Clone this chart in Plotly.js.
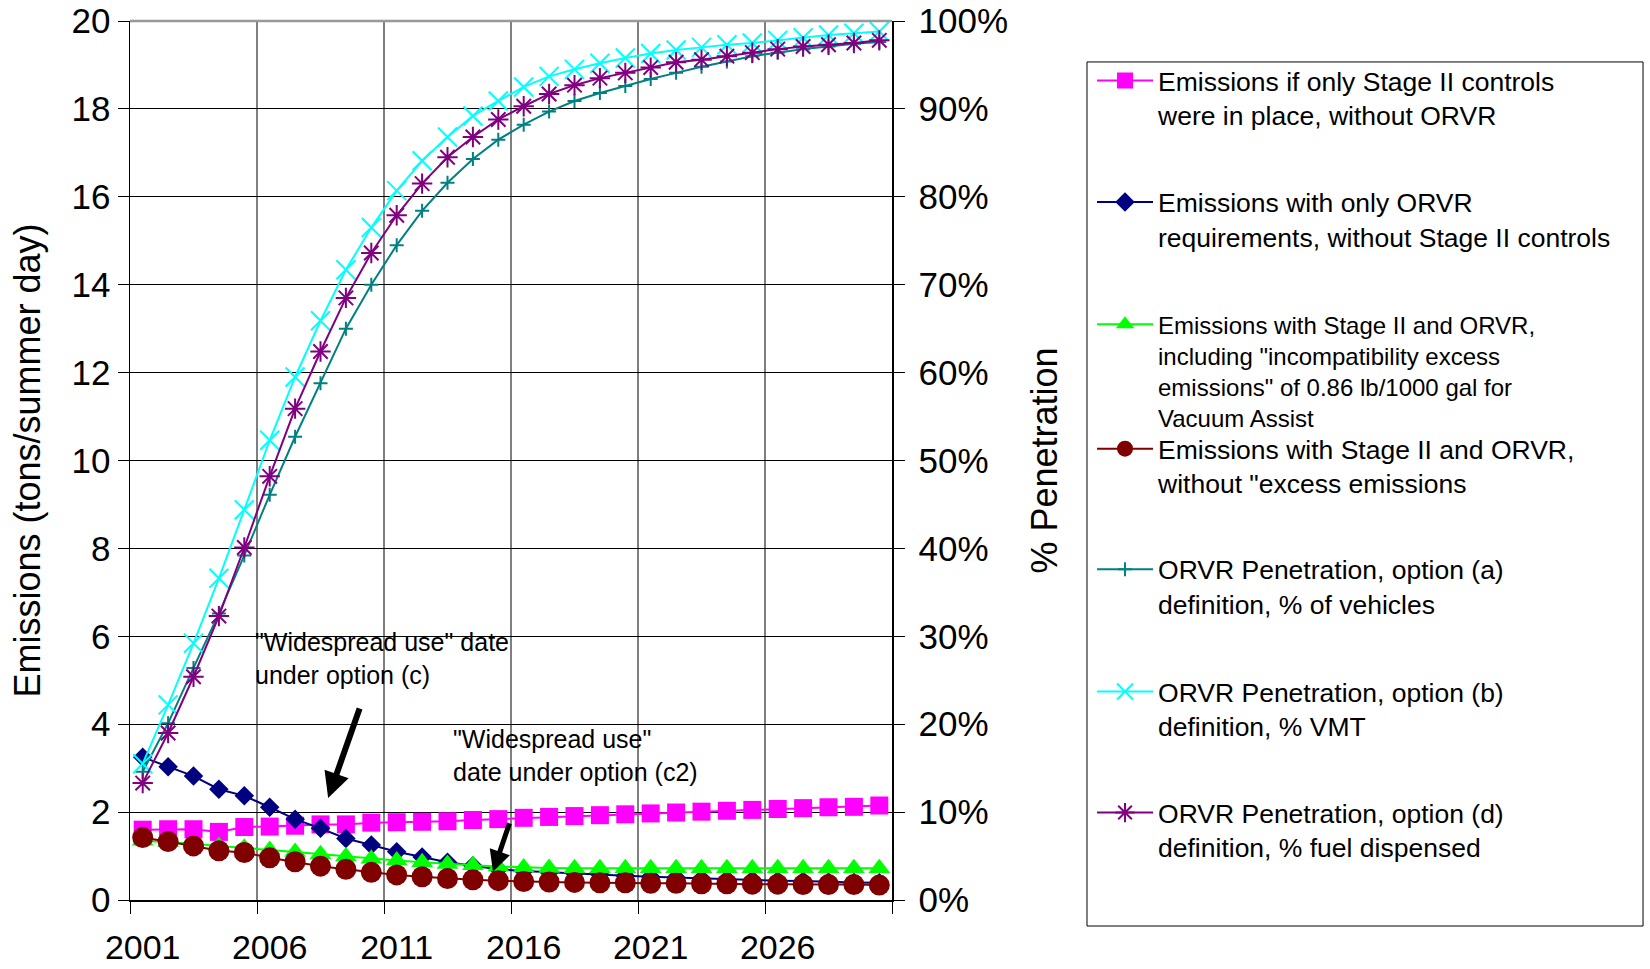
<!DOCTYPE html>
<html>
<head>
<meta charset="utf-8">
<script src="https://cdn.plot.ly/plotly-3.0.1.min.js"></script>
<style>
  html, body { margin: 0; padding: 0; background: #fff; }
  #chart { width: 1650px; height: 969px; }
</style>
</head>
<body>
<div id="chart"></div>
<script>
// ---- data ----
const years = [2001,2002,2003,2004,2005,2006,2007,2008,2009,2010,
               2011,2012,2013,2014,2015,2016,2017,2018,2019,2020,
               2021,2022,2023,2024,2025,2026,2027,2028,2029,2030];
const tickYears = [2001, 2006, 2011, 2016, 2021, 2026];

// emissions, tons/summer day (left axis)
const stage2Only = [1.60,1.61,1.61,1.55,1.66,1.67,1.69,1.72,1.72,1.76,
                    1.77,1.78,1.79,1.82,1.84,1.87,1.89,1.91,1.93,1.95,
                    1.97,1.99,2.01,2.03,2.05,2.07,2.09,2.11,2.12,2.15];
const orvrOnly   = [3.25,3.03,2.82,2.52,2.37,2.11,1.84,1.63,1.40,1.25,
                    1.10,0.98,0.86,0.78,0.70,0.66,0.63,0.61,0.58,0.55,
                    0.53,0.51,0.49,0.47,0.46,0.44,0.43,0.41,0.40,0.39];
const bothExcess = [1.35,1.32,1.28,1.23,1.19,1.14,1.09,1.04,0.99,0.94,
                    0.90,0.86,0.82,0.79,0.76,0.74,0.73,0.72,0.72,0.72,
                    0.72,0.72,0.72,0.72,0.72,0.72,0.72,0.72,0.72,0.72];
const bothNoExcess = [1.42,1.33,1.23,1.12,1.08,0.96,0.87,0.77,0.70,0.63,
                      0.57,0.53,0.49,0.46,0.44,0.42,0.41,0.40,0.39,0.39,
                      0.38,0.38,0.37,0.37,0.36,0.36,0.35,0.35,0.35,0.34];

// ORVR penetration, % (right axis)
const penA = [14.6,20.1,26.4,32.6,39.2,46.1,52.7,58.8,65.0,70.0,
              74.5,78.4,81.6,84.3,86.5,88.2,89.7,90.9,91.8,92.6,
              93.4,94.1,94.8,95.4,96.0,96.4,96.8,97.1,97.4,97.6];
const penB = [15.5,22.2,29.2,36.6,44.4,52.3,59.5,65.9,71.7,76.5,
              80.7,84.1,86.8,89.2,90.9,92.5,93.7,94.5,95.2,95.8,
              96.3,96.7,97.0,97.3,97.5,97.8,98.1,98.4,98.6,98.8];
const penD = [13.3,19.0,25.4,32.3,40.1,48.2,55.9,62.4,68.5,73.6,
              77.9,81.5,84.5,86.8,88.8,90.3,91.7,92.7,93.5,94.1,
              94.7,95.3,95.6,96.0,96.4,96.8,97.1,97.3,97.5,97.8];

const names = [
  'Emissions if only Stage II controls<br>were in place, without ORVR',
  'Emissions with only ORVR<br>requirements, without Stage II controls',
  'Emissions with Stage II and ORVR,<br>including "incompatibility excess<br>emissions" of 0.86 lb/1000 gal for<br>Vacuum Assist',
  'Emissions with Stage II and ORVR,<br>without "excess emissions',
  'ORVR Penetration, option (a)<br>definition, % of vehicles',
  'ORVR Penetration, option (b)<br>definition, % VMT',
  'ORVR Penetration, option (d)<br>definition, % fuel dispensed'
];

// ---- chart ----
const FONT = 'Liberation Sans, Arial, sans-serif';

function tr(y, name, color, symbol, size, legendId, yaxis, thin) {
  const m = { symbol: symbol, size: size, color: color };
  m.line = thin ? { color: color, width: 2 } : { color: color, width: 0 };
  return {
    x: years, y: y, name: name, type: 'scatter', mode: 'lines+markers',
    line: { color: color, width: 2 },
    marker: m, legend: legendId, yaxis: yaxis, hoverinfo: 'x+y'
  };
}

const traces = [
  tr(stage2Only, names[0], '#FF00FF', 'square', 18, 'legend', 'y', false),
  tr(orvrOnly, names[1], '#000080', 'diamond', 15, 'legend2', 'y', false),
  tr(bothExcess, names[2], '#00FF00', 'triangle-up', 19, 'legend3', 'y', false),
  tr(bothNoExcess, names[3], '#800000', 'circle', 21, 'legend4', 'y', false),
  tr(penA, names[4], '#008080', 'cross-thin', 10, 'legend5', 'y2', true),
  tr(penB, names[5], '#00FFFF', 'x-thin', 19, 'legend6', 'y2', true),
  tr(penD, names[6], '#800080', 'asterisk', 17, 'legend7', 'y2', true)
];

// legend positions (paper coords)
const legTop = [0.9594, 0.8210, 0.6801, 0.5405, 0.4034, 0.2641, 0.1265];
const legFont = [26.5, 26.5, 24, 26.5, 26.5, 26.5, 26.5];
function leg(i) {
  return {
    x: 1.2625, xanchor: 'left', y: legTop[i], yanchor: 'top',
    bgcolor: 'rgba(0,0,0,0)', borderwidth: 0,
    font: { family: FONT, size: legFont[i], color: '#000' },
    itemwidth: 56, valign: 'top', traceorder: 'normal'
  };
}

const layout = {
  width: 1650, height: 969,
  margin: { l: 130, r: 758, t: 21, b: 69, pad: 0 },
  paper_bgcolor: '#fff', plot_bgcolor: '#fff',
  font: { family: FONT, color: '#000' },
  showlegend: true,
  legend: leg(0), legend2: leg(1), legend3: leg(2), legend4: leg(3),
  legend5: leg(4), legend6: leg(5), legend7: leg(6),
  xaxis: {
    range: [2000.5, 2030.5],
    tickmode: 'array', tickvals: tickYears, ticktext: tickYears.map(String),
    ticks: 'outside', ticklen: 12, tickcolor: 'rgba(0,0,0,0)',
    ticklabelstandoff: 5,
    tickfont: { family: FONT, size: 34, color: '#000' },
    showgrid: false, zeroline: false,
    showline: true, linecolor: '#000', linewidth: 1.5,
    minor: {
      tickmode: 'linear', tick0: 2000.5, dtick: 5,
      ticks: 'outside', ticklen: 12, tickcolor: '#000', tickwidth: 1,
      showgrid: true, gridcolor: '#7f7f7f', gridwidth: 1.5
    }
  },
  yaxis: {
    range: [0, 20], dtick: 2, tick0: 0,
    ticks: 'outside', ticklen: 11, tickcolor: '#000', tickwidth: 1,
    tickfont: { family: FONT, size: 35, color: '#000' },
    showgrid: true, gridcolor: '#000', gridwidth: 1,
    zeroline: false, showline: true, linecolor: '#000', linewidth: 1.5,
    title: { text: 'Emissions (tons/summer day)', font: { family: FONT, size: 36, color: '#000' }, standoff: 20 }
  },
  yaxis2: {
    overlaying: 'y', side: 'right',
    range: [0, 100], dtick: 10, tick0: 0, ticksuffix: '%',
    ticks: 'outside', ticklen: 11, tickcolor: '#000', tickwidth: 1,
    ticklabelstandoff: 7,
    tickfont: { family: FONT, size: 35, color: '#000' },
    showgrid: false, zeroline: false,
    showline: true, linecolor: '#000', linewidth: 1.5,
    title: { text: '% Penetration', font: { family: FONT, size: 36, color: '#000' }, standoff: 25 }
  },
  shapes: [
    // plot-area top border
    { type: 'line', xref: 'paper', yref: 'paper', x0: 0, x1: 1, y0: 1, y1: 1,
      line: { color: '#999', width: 2.5 } },
    // legend frame
    { type: 'rect', xref: 'paper', yref: 'paper',
      x0: 1.2559, x1: 1.9856, y0: -0.0296, y1: 0.9534,
      line: { color: '#000', width: 1 }, fillcolor: 'rgba(0,0,0,0)' }
  ],
  annotations: [
    { x: 2005.35, y: 5.50, xref: 'x', yref: 'y', xanchor: 'left', yanchor: 'middle',
      align: 'left', showarrow: false,
      text: '"Widespread use" date<br>under option (c)',
      font: { family: FONT, size: 25, color: '#000' } },
    { x: 2013.15, y: 3.28, xref: 'x', yref: 'y', xanchor: 'left', yanchor: 'middle',
      align: 'left', showarrow: false,
      text: '"Widespread use"<br>date under option (c2)',
      font: { family: FONT, size: 25, color: '#000' } },
    { x: 2008.3, y: 2.32, xref: 'x', yref: 'y', ax: 32, ay: -91, text: '',
      showarrow: true, arrowhead: 2, arrowsize: 0.85, arrowwidth: 6, arrowcolor: '#000' },
    { x: 2014.79, y: 0.64, xref: 'x', yref: 'y', ax: 17, ay: -50, text: '',
      showarrow: true, arrowhead: 2, arrowsize: 0.85, arrowwidth: 5, arrowcolor: '#000' }
  ]
};

Plotly.newPlot('chart', traces, layout, { displayModeBar: false, staticPlot: true });
</script>
</body>
</html>
